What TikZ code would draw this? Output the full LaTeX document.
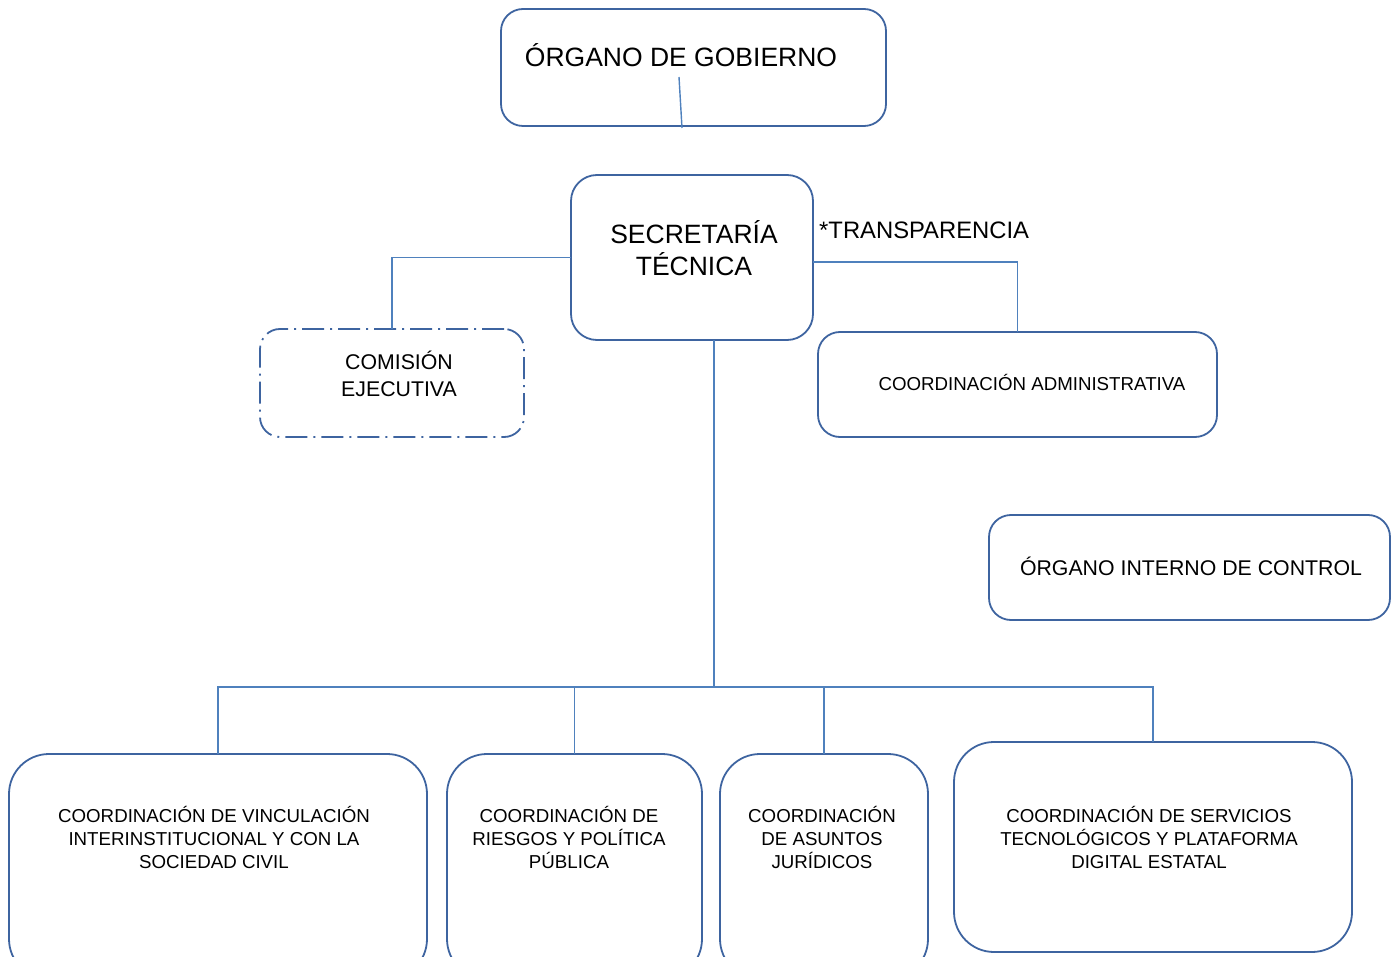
\documentclass[tikz,border=0pt]{standalone}
\usepackage{fontspec}
\setmainfont{Liberation Sans}
\definecolor{boxblue}{RGB}{62,100,160}
\definecolor{lineblue}{RGB}{79,129,189}
\tikzset{
  orgbox/.style={draw=boxblue, line width=1.8pt, rounded corners=#1, minimum width=0pt, minimum height=0pt, inner sep=0pt, outer sep=0pt},
  orgbox/.default=22pt,
  dashbox/.style={orgbox=20pt, dash pattern=on 22pt off 6pt on 2pt off 6pt},
  conn/.style={draw=lineblue, line width=1.8pt},
  txt/.style={inner sep=0pt, align=center, text=black},
  big/.style={txt, font=\fontsize{26.5}{32}\selectfont},
  mid/.style={txt, font=\fontsize{21.3}{26.5}\selectfont},
  small/.style={txt, font=\fontsize{18.7}{23}\selectfont},
}
\begin{document}
\begin{tikzpicture}[x=1pt, y=-1pt]
\useasboundingbox (0,0) rectangle (1397,957);
\clip (0,0) rectangle (1397,957);
% boxes
\node[orgbox, minimum width=385pt, minimum height=117pt] (og) at (693.5,67.5) {};
\node[orgbox=26pt, minimum width=242pt, minimum height=165pt] (sec) at (692,257.5) {};
\node[dashbox, minimum width=264pt, minimum height=108pt] (com) at (392,383) {};
\node[orgbox, minimum width=399pt, minimum height=105pt] (adm) at (1017.5,384.5) {};
\node[orgbox, minimum width=401pt, minimum height=105pt] (oic) at (1189.5,567.5) {};
\node[orgbox=40pt, minimum width=418pt, minimum height=225pt] (b1) at (218,866.5) {};
\node[orgbox=40pt, minimum width=255pt, minimum height=225pt] (b2) at (574.5,866.5) {};
\node[orgbox=40pt, minimum width=208pt, minimum height=225pt] (b3) at (824,866.5) {};
\node[orgbox=40pt, minimum width=398pt, minimum height=210pt] (b4) at (1153,847) {};
% texts
\node[big] (tog) at (681,55) {ÓRGANO DE GOBIERNO};
\node[big] (tsec) at (694,248) {SECRETARÍA\\TÉCNICA};
\node[txt, font=\fontsize{23.8}{28}\selectfont, anchor=west] (ttr) at (819,230) {*TRANSPARENCIA};
\node[mid] (tcom) at (399,374) {COMISIÓN\\EJECUTIVA};
\node[small] (tadm) at (1032,382.5) {COORDINACIÓN ADMINISTRATIVA};
\node[mid] (toic) at (1191,566) {ÓRGANO INTERNO DE CONTROL};
\node[small] (tb1) at (214,837) {COORDINACIÓN DE VINCULACIÓN\\INTERINSTITUCIONAL Y CON LA\\SOCIEDAD CIVIL};
\node[small] (tb2) at (569,837) {COORDINACIÓN DE\\RIESGOS Y POLÍTICA\\PÚBLICA};
\node[small] (tb3) at (822,837) {COORDINACIÓN\\DE ASUNTOS\\JURÍDICOS};
\node[small] (tb4) at (1149,837) {COORDINACIÓN DE SERVICIOS\\TECNOLÓGICOS Y PLATAFORMA\\DIGITAL ESTATAL};
% connectors
\coordinate (ogA) at (679,77);
\coordinate (ogB) at (682,128);
\draw[conn, line width=1.4pt] (ogA) -- (ogB);
\draw[conn] (sec.west) -| (com.north);
\draw[conn] ([yshift=-4.5pt]sec.east) -| (adm.north);
\coordinate (hub) at (714,687);
\draw[conn] (sec.south -| hub) -- (hub);
\draw[conn] (b1.north) |- (b4.north |- hub) -- (b4.north);
\draw[conn] (b2.north) -- (b2.north |- hub);
\draw[conn] (b3.north) -- (b3.north |- hub);
\end{tikzpicture}
\end{document}
